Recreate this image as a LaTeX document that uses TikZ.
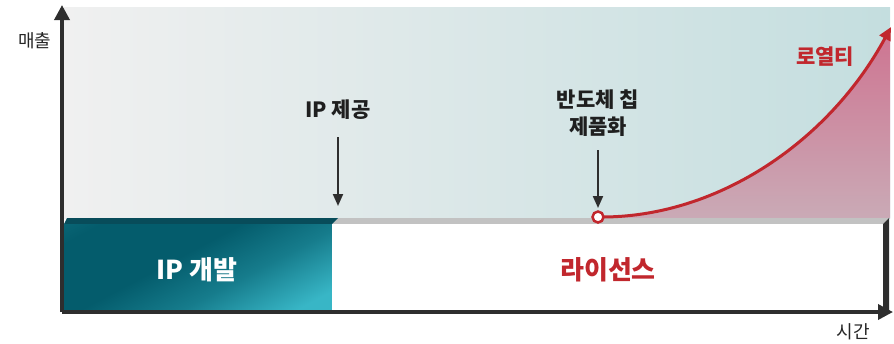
\documentclass[tikz,border=0pt]{standalone}
\usepackage{fontspec}
\usetikzlibrary{arrows.meta}
\newfontfamily\kr{Noto Sans CJK KR}
\newfontfamily\krb{Noto Sans CJK KR Black}
\definecolor{axisgray}{HTML}{2E2E2E}
\definecolor{bgleft}{HTML}{F0F0F0}
\definecolor{bgright}{HTML}{C4DEDF}
\definecolor{ipdark}{HTML}{045C6C}
\definecolor{ipmid}{HTML}{167C8C}
\definecolor{iplight}{HTML}{38B6C6}
\definecolor{ipcap}{HTML}{084C5A}
\definecolor{shelf}{HTML}{C2C2C2}
\definecolor{royred}{HTML}{C1272D}
\definecolor{pinktop}{HTML}{CE7390}
\definecolor{pinkbot}{HTML}{CAAAB6}
\pgfdeclareverticalshading{ipshade}{100bp}{color(0bp)=(iplight); color(22bp)=(iplight);
  color(40bp)=(ipmid); color(56bp)=(ipdark); color(78bp)=(ipdark); color(100bp)=(ipmid)}

\begin{document}
\begin{tikzpicture}[x=1pt,y=-1pt,
    axis/.style={draw=axisgray,line width=3.5pt,-{Triangle[width=15pt,length=15pt]}},
    pointer/.style={draw=axisgray,line width=2pt,-{Triangle[width=10pt,length=12pt]}},
    lbl/.style={font=\krb\fontsize{21}{27}\selectfont,text=black!88,align=center},
    boxlbl/.style={font=\krb\fontsize{26}{28}\selectfont},
    axlbl/.style={font=\kr\fontsize{18}{20}\selectfont,text=black!85}]
    \useasboundingbox (0,0) rectangle (894,343);
    % Points
    \coordinate (o) at (62,312);
    \coordinate (ytip) at (62,5);
    \coordinate (xtip) at (893,312);
    \coordinate (provA) at (338,137);
    \coordinate (provB) at (338,206);
    \coordinate (chipA) at (598,150);
    \coordinate (chipB) at (598,208);
    \coordinate (start) at (598,217);
    \coordinate (top) at (891,27);
    % Areas
    \shade[left color=bgleft,right color=bgright] (64,7) rectangle (890,218);
    \begin{scope}
      \clip (64,7) rectangle (890,218);
      \shade[top color=pinktop,bottom color=pinkbot]
        (604,218) .. controls (720,216) and (830,140) .. (top) -- (891,218) -- cycle;
    \end{scope}
    \fill[shelf] (338,218) -- (889,218) -- (883,224) -- (332,224) -- cycle;
    \fill[ipcap] (64,224) -- (67,218) -- (338,218) -- (332,224) -- cycle;
    \shade[shading=ipshade,shading angle=28] (64,224) rectangle (332,311);
    \fill[white] (332,224) rectangle (883,311);
    \fill[axisgray] (883,224) -- (889,218) -- (889,311) -- (883,311) -- cycle;
    % Segments
    \draw[axis] (o) -- (ytip);
    \draw[axis] (o) -- (xtip);
    \draw[pointer] (provA) -- (provB);
    \draw[pointer] (chipA) -- (chipB);
    \draw[royred,line width=3pt,-{Triangle[width=12pt,length=13pt]}]
      (start) ++(6,0) .. controls (720,216) and (830,140) .. (top);
    \draw[royred,line width=2.5pt,fill=white] (start) circle (5.5);
    % Labels
    \node[axlbl] (sales) at (35,41) {매출};
    \node[axlbl] (time) at (853,332) {시간};
    \node[lbl] (prov) at (338,110) {IP 제공};
    \node[lbl] (chip) at (598,113) {반도체 칩\\제품화};
    \node[lbl,text=royred] (roy) at (825,57) {로열티};
    \node[boxlbl,text=white] (dev) at (197,270) {IP 개발};
    \node[boxlbl,text=royred] (lic) at (608,270) {라이선스};
\end{tikzpicture}
\end{document}
